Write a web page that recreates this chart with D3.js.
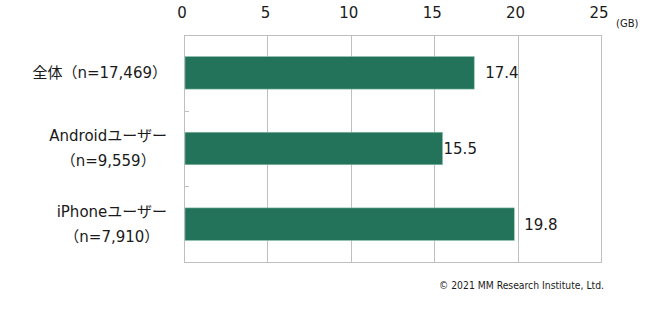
<!DOCTYPE html>
<html lang="ja">
<head>
<meta charset="UTF-8">
<title>Data usage</title>
<script src="https://d3js.org/d3.v7.min.js"></script>
<style>
  body { margin: 0; background: #fff; }
  text { font-family: "DejaVu Sans", "Noto Sans CJK JP", sans-serif; fill: #1a1a1a; }
</style>
</head>
<body>
<svg class="canvas"></svg>
<script>
// data
var categories = ["全体（n=17,469）", "Androidユーザー\n（n=9,559）", "iPhoneユーザー\n（n=7,910）"];
var values = [17.4, 15.5, 19.8];
var valueLabels = ["17.4", "15.5", "19.8"];
var tickValues = [0, 5, 10, 15, 20, 25];
var unitLabel = "(GB)";
var credit = "© 2021 MM Research Institute, Ltd.";

// label nudges as in the original (px)
var labelDx = [11, 1, 10];

var width = 665, height = 319;
var plotLeft = 184, plotRight = 601, plotTop = 35, plotBottom = 262;
var barColor = "#22735a", gridColor = "#bfbfbf";

var svg = d3.select("svg").attr("width", width).attr("height", height);

var xScale = d3.scaleLinear().domain([0, 25]).range([plotLeft, plotRight]);
var yScale = d3.scaleBand().domain(categories).range([plotTop, plotBottom])
    .paddingInner(0.57).paddingOuter(0.285);

// vertical grid + box
svg.selectAll("line.grid")
    .data(tickValues)
    .enter().append("line")
    .attr("class", "grid")
    .attr("x1", function(d) { return Math.round(xScale(d)) + 0.5; })
    .attr("x2", function(d) { return Math.round(xScale(d)) + 0.5; })
    .attr("y1", plotTop).attr("y2", plotBottom)
    .attr("stroke", gridColor).attr("stroke-width", 1);

svg.append("line")
    .attr("x1", plotLeft).attr("x2", plotRight + 1)
    .attr("y1", plotTop + 0.5).attr("y2", plotTop + 0.5)
    .attr("stroke", gridColor);
svg.append("line")
    .attr("x1", plotLeft).attr("x2", plotRight + 1)
    .attr("y1", plotBottom + 0.5).attr("y2", plotBottom + 0.5)
    .attr("stroke", gridColor);

// category separators on the value axis
var step = yScale.step();
svg.selectAll("line.sep")
    .data(categories.slice(1))
    .enter().append("line")
    .attr("class", "sep")
    .attr("x1", plotLeft).attr("x2", plotLeft + 5)
    .attr("y1", function(d) { return Math.round(yScale(d) - step * 0.285) + 0.5; })
    .attr("y2", function(d) { return Math.round(yScale(d) - step * 0.285) + 0.5; })
    .attr("stroke", gridColor);

// top axis labels
var xAxis = svg.append("g");
xAxis.selectAll("text")
    .data(tickValues)
    .enter().append("text")
    .attr("x", function(d) { return xScale(d) - 2; })
    .attr("y", 18)
    .attr("text-anchor", "middle")
    .style("font-size", "15px")
    .text(function(d) { return d; });

svg.append("text")
    .attr("x", 616).attr("y", 27)
    .style("font-size", "10px")
    .text(unitLabel);

// bars
svg.selectAll("rect.bar")
    .data(values)
    .enter().append("rect")
    .attr("class", "bar")
    .attr("x", xScale(0) + 1)
    .attr("y", function(d, i) { return yScale(categories[i]); })
    .attr("width", function(d) { return xScale(d) - xScale(0) - 1; })
    .attr("height", yScale.bandwidth())
    .attr("fill", barColor)
    .attr("stroke", "#8fbfae").attr("stroke-width", 0.6);

// value labels
svg.selectAll("text.val")
    .data(values)
    .enter().append("text")
    .attr("class", "val")
    .attr("x", function(d, i) { return xScale(d) + labelDx[i]; })
    .attr("y", function(d, i) { return yScale(categories[i]) + yScale.bandwidth() / 2; })
    .attr("dy", "0.36em")
    .style("font-size", "15px")
    .text(function(d, i) { return valueLabels[i]; });

// category labels: block right-aligned, lines centered within block
var blockRight = 167, lineGap = 25;
categories.forEach(function(c) {
    var lines = c.split("\n");
    var cy = yScale(c) + yScale.bandwidth() / 2;
    var g = svg.append("g");
    var texts = lines.map(function(l, j) {
        return g.append("text")
            .attr("y", cy + (j - (lines.length - 1) / 2) * lineGap)
            .attr("dy", "0.36em")
            .attr("text-anchor", "middle")
            .style("font-size", "15px")
            .text(l);
    });
    var maxW = d3.max(texts, function(t) { return t.node().getComputedTextLength(); });
    texts.forEach(function(t) { t.attr("x", blockRight - maxW / 2); });
});

// credit
svg.append("text")
    .attr("x", 604).attr("y", 289)
    .attr("text-anchor", "end")
    .style("font-family", "'DejaVu Sans Condensed', 'DejaVu Sans', sans-serif")
    .style("font-size", "10.3px")
    .text(credit);
</script>
</body>
</html>
